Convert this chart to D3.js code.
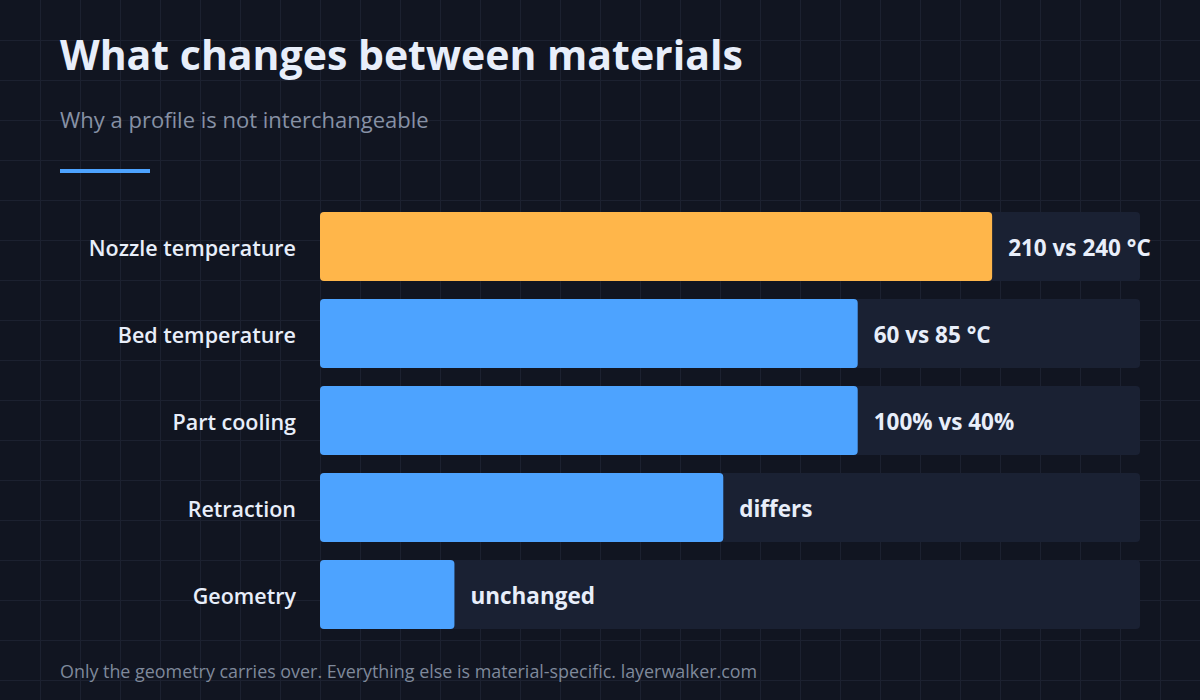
<!DOCTYPE html>
<html><head><meta charset="utf-8">
<script src="https://cdn.jsdelivr.net/npm/d3@7"></script>
<style>
html,body{margin:0;padding:0;background:#111521;}
svg{display:block;}
text{font-family:"Open Sans","Noto Sans",sans-serif;}
</style></head>
<body><svg id="c" width="1200" height="700"></svg>
<script>
const categories = ["Nozzle temperature","Bed temperature","Part cooling","Retraction","Geometry"];
const values = [5, 4, 4, 3, 1];
const valueLabels = ["210 vs 240 °C","60 vs 85 °C","100% vs 40%","differs","unchanged"];
const highlight = ["Nozzle temperature"];
const title = "What changes between materials";
const subtitle = "Why a profile is not interchangeable";
const footer = "Only the geometry carries over. Everything else is material-specific. layerwalker.com";

const svg = d3.select("#c");
const W = 1200, H = 700;
svg.append("rect").attr("width",W).attr("height",H).attr("fill","#111521");
const grid = svg.append("g").attr("stroke","#1c2130").attr("stroke-width",1);
d3.range(40, W, 40).forEach(x => grid.append("line").attr("x1",x+0.5).attr("x2",x+0.5).attr("y1",0).attr("y2",H));
d3.range(40, H, 40).forEach(y => grid.append("line").attr("y1",y+0.5).attr("y2",y+0.5).attr("x1",0).attr("x2",W));

svg.append("text").attr("x",60).attr("y",70).attr("fill","#e8eefa").attr("font-size",41).attr("font-weight",700).text(title);
svg.append("text").attr("x",60).attr("y",128).attr("fill","#8791a5").attr("font-size",22).text(subtitle);
svg.append("rect").attr("x",60).attr("y",169).attr("width",90).attr("height",4).attr("fill","#4da3ff");

const x = d3.scaleLinear().domain([0, 6.1]).range([320, 1140]);
const y = d3.scaleBand().domain(categories).range([212, 629]).paddingInner(18/87).paddingOuter(0);

const rows = svg.append("g").selectAll("g").data(categories).join("g");
rows.append("rect").attr("x",x(0)).attr("y",d=>y(d)).attr("width",x.range()[1]-x(0)).attr("height",y.bandwidth()).attr("rx",4).attr("fill","#1a2133");
rows.append("rect").attr("x",x(0)).attr("y",d=>y(d)).attr("width",(d,i)=>x(values[i])-x(0)).attr("height",y.bandwidth()).attr("rx",4)
  .attr("fill",d=>highlight.includes(d)?"#ffb64a":"#4da3ff");
rows.append("text").attr("x",296).attr("y",d=>y(d)+y.bandwidth()/2).attr("dy","0.44em").attr("text-anchor","end")
  .attr("fill","#e8eefa").attr("font-size",21.5).attr("font-weight",600).text(d=>d);
rows.append("text").attr("x",(d,i)=>x(values[i])+16).attr("y",d=>y(d)+y.bandwidth()/2).attr("dy","0.44em")
  .attr("fill","#e8eefa").attr("font-size",22.5).attr("font-weight",700).text((d,i)=>valueLabels[i]);

svg.append("text").attr("x",60).attr("y",678).attr("fill","#7f899b").attr("font-size",17.9).text(footer);
</script></body></html>
